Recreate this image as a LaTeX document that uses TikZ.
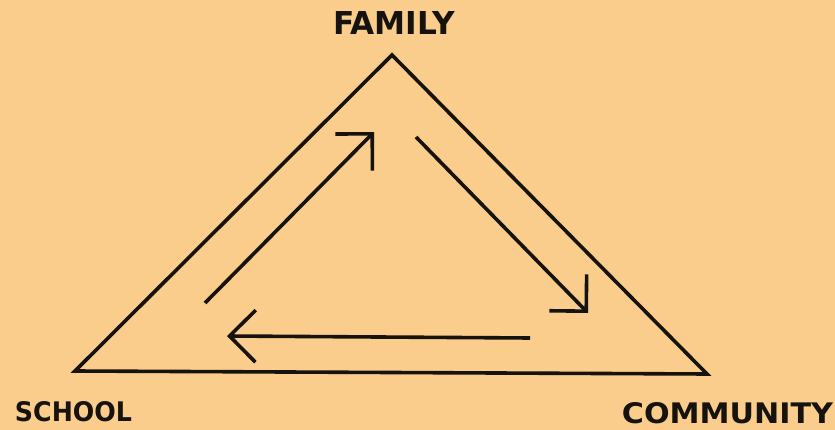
\documentclass[tikz,border=0pt]{standalone}
\usepackage{fontspec}
\setmainfont{DejaVu Sans}
\usepackage{graphicx}
\usetikzlibrary{arrows.meta}
\definecolor{bg}{RGB}{250,205,140}
\definecolor{ink}{RGB}{22,18,14}
\tikzset{
  lbl/.style={inner sep=0pt, text=ink},
  edge/.style={draw=ink, line width=3.6pt, line join=miter},
  flow/.style={draw=ink, line width=3.6pt, -{Straight Barb[length=26pt, angle'=90, line width=3.6pt]}}
}
\begin{document}
\begin{tikzpicture}[x=1pt, y=-1pt]
\fill[bg] (0,0) rectangle (835,430);
\useasboundingbox (0,0) rectangle (835,430);
% corners
\coordinate (F) at (392,55);
\coordinate (S) at (75,371);
\coordinate (C) at (707,374);
\draw[edge] (F) -- (S) -- (C) -- cycle;
% labels
\node[lbl] (family) at (394,23.5) {\resizebox{122pt}{23pt}{\bfseries FAMILY}};
\node[lbl] (school) at (73.5,412) {\resizebox{117pt}{20pt}{\bfseries SCHOOL}};
\node[lbl] (community) at (727.5,413.5) {\resizebox{211pt}{21pt}{\bfseries COMMUNITY}};
% flow arrows
\coordinate (a1s) at (205,303);
\coordinate (a1e) at (374,132);
\coordinate (a2s) at (416,137);
\coordinate (a2e) at (588,313);
\coordinate (a3s) at (530,338);
\coordinate (a3e) at (227,336);
\draw[flow] (a1s) -- (a1e);
\draw[flow] (a2s) -- (a2e);
\draw[flow] (a3s) -- (a3e);
\end{tikzpicture}
\end{document}
